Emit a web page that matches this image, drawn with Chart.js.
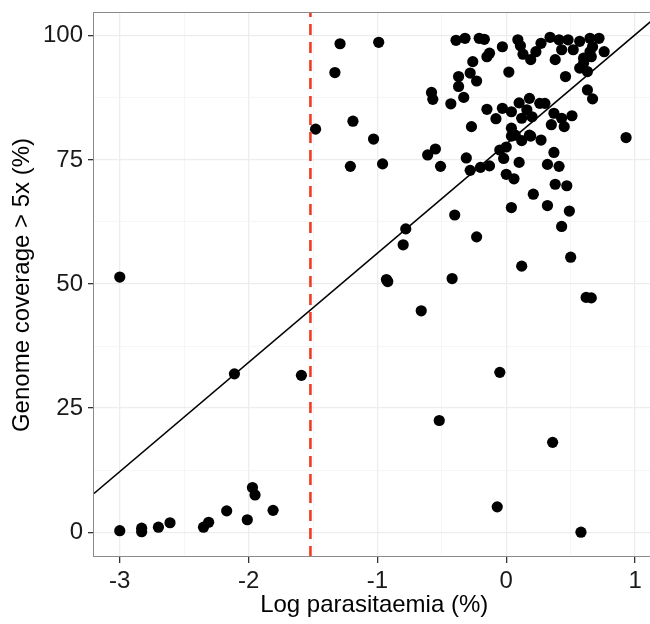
<!DOCTYPE html>
<html><head><meta charset="utf-8">
<script src="https://cdn.jsdelivr.net/npm/chart.js@4.4.1/dist/chart.umd.min.js"></script>
<style>html,body{margin:0;padding:0;overflow:hidden;background:#fff}canvas{display:block}</style>
</head><body><canvas id="c" width="660" height="624"></canvas>
<script>
// Log parasitaemia (%) values
const logParasitaemia = [
 -3.00,-3.00,-2.83,-2.83,-2.70,-2.61,-2.35,-2.31,-2.17,-2.11,-2.01,-1.97,-1.95,-1.81,-1.59,
 -1.48,-1.33,-1.29,-1.21,-1.19,-1.03,-0.99,-0.96,-0.93,-0.92,
 -0.80,-0.78,-0.66,-0.61,-0.58,-0.57,-0.55,-0.52,-0.51,-0.43,-0.42,-0.40,-0.39,-0.37,-0.37,
 -0.33,-0.32,-0.31,-0.28,-0.28,-0.27,-0.26,-0.23,-0.23,-0.21,-0.20,-0.17,-0.15,-0.15,-0.13,
 -0.13,-0.08,-0.07,-0.05,-0.05,-0.03,-0.03,-0.02,0.00,0.00,0.02,0.04,0.04,0.04,0.04,
 0.06,0.07,0.09,0.10,0.10,0.11,0.12,0.12,0.12,0.13,0.16,0.18,0.18,0.19,0.19,
 0.20,0.21,0.23,0.26,0.27,0.27,0.30,0.32,0.32,0.34,0.35,0.36,0.37,0.37,0.38,
 0.38,0.41,0.41,0.43,0.43,0.43,0.45,0.46,0.47,0.48,0.49,0.50,0.51,0.52,0.57,
 0.57,0.58,0.60,0.60,0.62,0.66,0.63,0.63,0.65,0.65,0.66,0.67,0.67,0.72,0.76,0.93
];
// Genome coverage > 5x (%) values
const genomeCoverage = [
 51.4,0.3,0.8,0.1,1.0,1.9,1.0,2.0,4.3,31.9,2.5,9.0,7.5,4.4,31.6,
 81.2,92.6,98.4,73.7,82.8,79.2,98.7,74.2,50.9,50.5,
 57.9,61.1,44.6,76.0,88.6,87.2,77.2,22.5,73.7,86.3,51.1,63.9,99.1,91.8,89.8,
 87.6,99.5,75.4,72.9,92.5,81.7,94.8,90.9,59.5,99.5,73.5,99.3,95.8,85.2,96.5,
 73.8,83.3,5.1,32.2,77.0,97.8,85.4,75.3,77.6,72.1,92.7,84.7,81.4,79.8,65.4,
 71.2,80.0,99.2,86.5,74.5,98.0,83.4,78.9,53.6,96.3,85.1,87.4,80.0,95.2,79.8,
 83.7,68.1,96.8,86.4,98.5,79.0,86.4,74.1,65.8,99.7,82.1,18.1,84.4,76.5,70.1,
 95.2,73.7,99.2,83.4,97.2,61.6,81.7,91.8,69.8,99.2,64.7,55.4,83.9,97.2,98.9,
 93.5,0.0,95.5,94.5,47.3,47.2,92.8,89.1,99.5,96.8,95.8,97.8,87.3,99.5,96.8,79.5
];
const xTickLabels = [-3,-2,-1,0,1];
const yTickLabels = [0,25,50,75,100];
const xMinorBreaks = [-2.5,-1.5,-0.5,0.5];
const yMinorBreaks = [12.5,37.5,62.5,87.5];
const thresholdLog = -1.52;          // dashed threshold
const fitIntercept = 78.2;           // regression line
const fitSlope = 22.0;
const xLimits = [-3.2, 1.15];
const yLimits = [-5, 104.6];

const points = logParasitaemia.map((x,i)=>({x, y: genomeCoverage[i]}));
const fitLine = xLimits.map(x=>({x, y: fitIntercept + fitSlope*x}));
const threshLine = yLimits.map(y=>({x: thresholdLog, y}));

const FONT = "'Liberation Sans', Arial, sans-serif";
const isMajor = (v, arr) => arr.some(a => Math.abs(a - v) < 1e-9);

const borderPlugin = {
  id:'panelBorder',
  afterDraw(chart){
    const {ctx, chartArea:a} = chart;
    ctx.save();
    ctx.strokeStyle = '#8a8a8a';
    ctx.lineWidth = 1;
    ctx.strokeRect(Math.round(a.left)-0.5, Math.round(a.top)-0.5, a.right-a.left, a.bottom-a.top);
    ctx.restore();
  }
};

function gridOpts(majors){
  return {
    display:true, drawOnChartArea:true, drawTicks:true, tickLength:6,
    color: c => isMajor(c.tick.value, majors) ? '#ededed' : '#f4f4f4',
    lineWidth: c => isMajor(c.tick.value, majors) ? 1.3 : 0.8,
    tickColor: c => isMajor(c.tick.value, majors) ? '#333333' : 'rgba(0,0,0,0)',
    tickWidth: 1.3
  };
}

new Chart(document.getElementById('c'), {
  type:'scatter',
  data:{ datasets:[
    { data: threshLine, showLine:true, borderColor:'#f23c20', borderWidth:2.6, borderDash:[11,7], pointRadius:0 },
    { data: fitLine, showLine:true, borderColor:'#000', borderWidth:1.6, pointRadius:0 },
    { data: points, backgroundColor:'#000', borderWidth:0, pointRadius:5.6, pointHoverRadius:5.6 }
  ]},
  options:{
    responsive:false, animation:false, devicePixelRatio:1,
    layout:{ padding:{ left:0, top:13, right:5, bottom:0 } },
    plugins:{ legend:{display:false}, tooltip:{enabled:false} },
    scales:{
      x:{
        type:'linear', min:xLimits[0], max:xLimits[1],
        afterBuildTicks: s => { s.ticks = [...xTickLabels, ...xMinorBreaks].sort((a,b)=>a-b).map(v=>({value:v})); },
        afterFit: s => { s.height = 67; s.paddingLeft = 0; s.paddingRight = 0; },
        grid: gridOpts(xTickLabels),
        border:{display:false},
        ticks:{ autoSkip:false, maxRotation:0, padding:4, color:'#1a1a1a',
          font:{family:FONT, size:24},
          callback: v => isMajor(v, xTickLabels) ? String(v) : '' },
        title:{ display:true, text:'Log parasitaemia (%)', color:'#000',
          font:{family:FONT, size:24}, padding:{top:0,bottom:4} }
      },
      y:{
        type:'linear', min:yLimits[0], max:yLimits[1],
        afterBuildTicks: s => { s.ticks = [...yTickLabels, ...yMinorBreaks].sort((a,b)=>a-b).map(v=>({value:v})); },
        afterFit: s => { s.width = 94; s.paddingTop = 0; s.paddingBottom = 0; },
        grid: gridOpts(yTickLabels),
        border:{display:false},
        ticks:{ autoSkip:false, padding:5, color:'#1a1a1a',
          font:{family:FONT, size:24},
          callback: v => isMajor(v, yTickLabels) ? String(v) : '' },
        title:{ display:true, text:'Genome coverage > 5x (%)', color:'#000',
          font:{family:FONT, size:24}, padding:{top:8,bottom:0} }
      }
    }
  },
  plugins:[borderPlugin]
});
</script></body></html>
